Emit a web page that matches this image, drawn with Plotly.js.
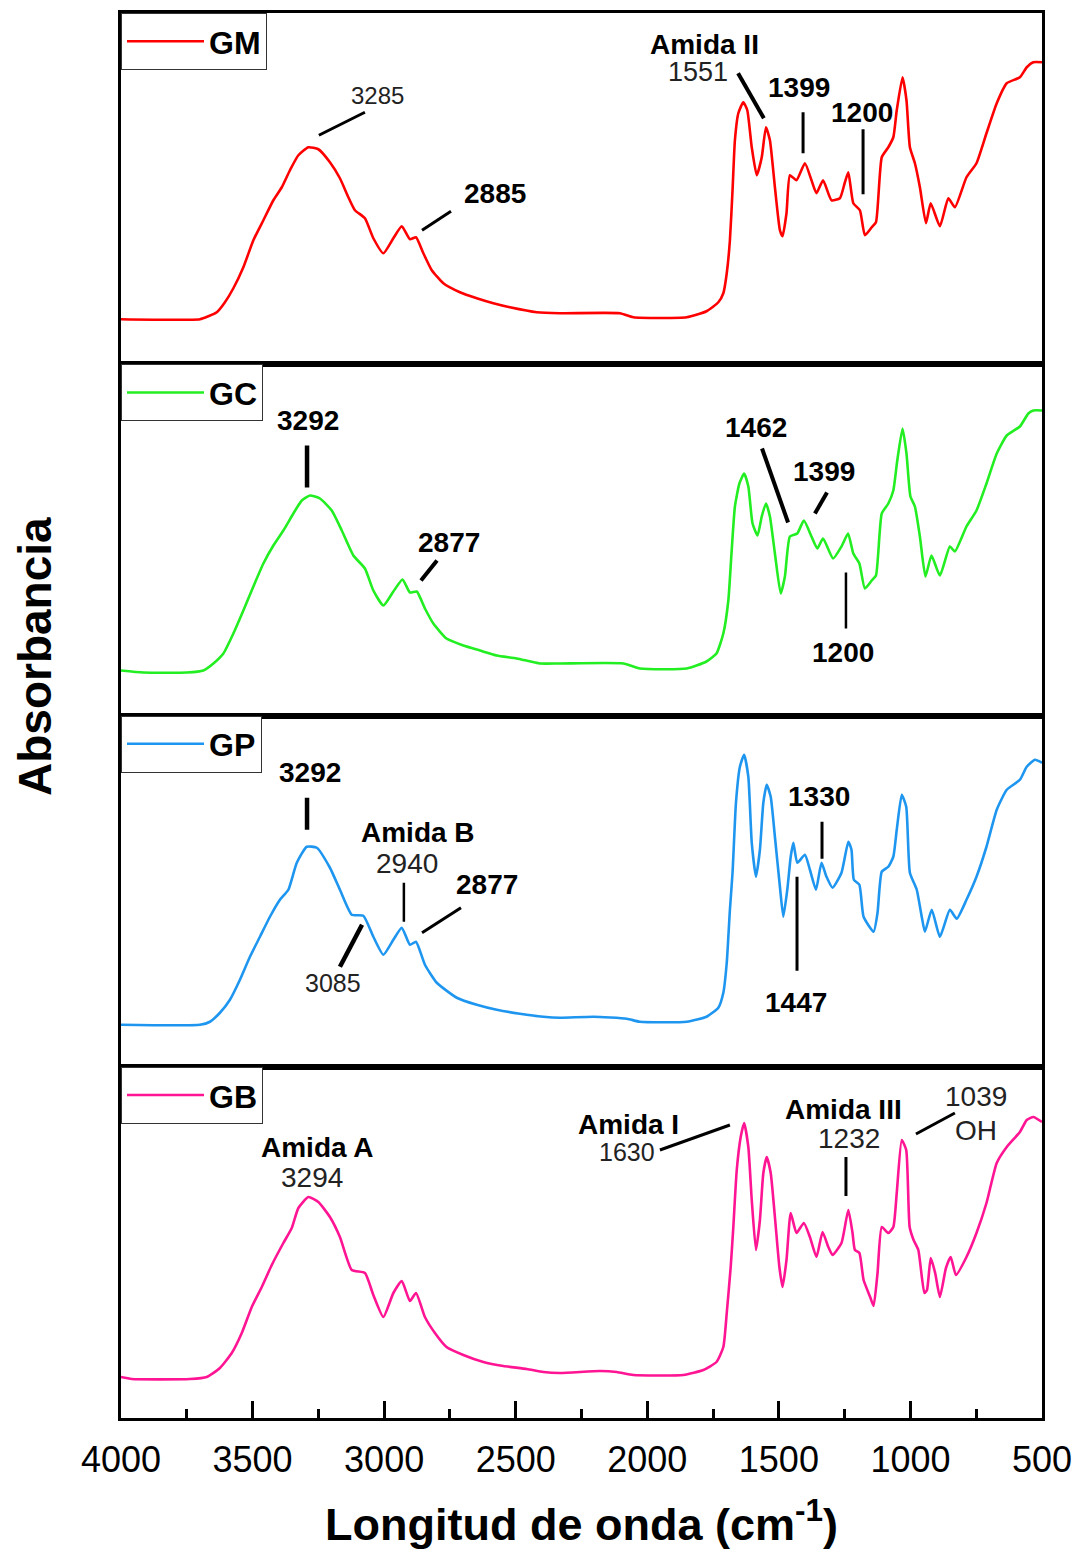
<!DOCTYPE html>
<html>
<head>
<meta charset="utf-8">
<script src="https://cdn.plot.ly/plotly-3.0.1.min.js"></script>
<style>
  html, body { margin: 0; padding: 0; background: #fff; }
  #chart { width: 1078px; height: 1559px; }
</style>
</head>
<body>
<div id="chart"></div>
<script>
// FTIR spectra of four gelatin samples: wavenumber (cm-1) and absorbance (arbitrary units)
const wnGM = [4000,3700,3668,3636,3605,3573,3535,3497,3459,3421,3389,3358,3326,3288,3250,3206,3168,3136,3111,3073,3041,3003,2965,2933,2902,2879,2851,2819,2775,2712,2648,2585,2522,2420,2332,2104,2053,1850,1775,1730,1711,1698,1686,1676,1667,1654,1635,1620,1603,1584,1565,1549,1534,1515,1496,1486,1471,1458,1433,1401,1376,1357,1332,1300,1268,1249,1236,1217,1192,1173,1147,1131,1109,1084,1065,1052,1030,1015,1002,983,964,941,923,888,856,831,787,749,711,672,634,584,558,533,500];
const absGM = [45,45,48,52,62,76,97,124,144,164,177,194,209,217,215,202,186,167,154,146,126,111,126,138,125,127,111,94,81,72,66,61,57,52,51,51,47,47,53,62,71,91,124,174,224,251,262,254,217,189,207,237,224,177,134,128,151,189,184,201,184,171,184,164,166,182,192,161,154,129,137,142,207,217,227,254,287,264,217,201,177,141,161,138,166,157,187,201,231,261,281,287,297,302,302];

const wnGC = [4000,3915,3750,3687,3649,3611,3573,3535,3497,3459,3421,3383,3345,3313,3282,3244,3199,3161,3117,3073,3041,3003,2965,2930,2902,2876,2845,2813,2763,2699,2636,2572,2496,2408,2332,2091,2028,1850,1775,1737,1711,1692,1680,1667,1650,1632,1616,1600,1581,1565,1549,1534,1515,1493,1477,1458,1430,1405,1376,1354,1332,1294,1262,1237,1217,1194,1173,1147,1131,1109,1084,1065,1050,1030,1015,1000,983,964,943,920,888,850,831,787,749,711,672,634,584,552,533,500];
const absGC = [45,43,43,45,52,62,82,105,129,152,170,185,202,215,220,217,205,185,160,147,125,110,124,136,123,124,107,92,77,70,65,60,57,52,52,52,47,47,54,62,82,115,162,209,232,242,229,192,180,199,212,199,162,122,139,179,182,195,179,167,177,157,169,182,162,152,127,135,140,202,212,225,255,287,262,219,209,179,139,160,140,169,164,189,205,232,262,280,289,302,305,305];

const wnGP = [4000,3700,3662,3624,3586,3548,3510,3472,3434,3396,3364,3332,3294,3256,3206,3168,3123,3079,3041,3003,2965,2933,2902,2879,2845,2800,2724,2648,2572,2484,2395,2332,2205,2078,2028,1850,1775,1730,1711,1698,1686,1676,1663,1648,1632,1616,1603,1587,1572,1559,1546,1531,1515,1496,1483,1468,1455,1445,1430,1401,1382,1359,1338,1319,1296,1262,1236,1224,1215,1194,1178,1140,1125,1109,1084,1065,1052,1033,1016,1002,976,957,945,919,888,850,824,787,749,711,672,634,584,558,527,500];
const absGP = [42,42,45,54,67,87,110,130,150,167,177,204,220,219,199,177,152,151,130,112,127,139,122,125,102,84,69,62,57,53,50,49,50,48,45,45,50,59,74,104,157,194,264,300,312,290,224,190,217,264,282,270,230,180,150,177,210,224,204,212,197,177,204,190,179,194,225,217,187,182,150,135,154,195,200,210,237,272,260,194,177,150,135,157,130,157,148,167,190,220,257,277,287,300,307,304];

const wnGB = [4000,3959,3738,3674,3624,3579,3541,3503,3465,3427,3383,3351,3326,3288,3250,3206,3168,3123,3073,3041,3003,2965,2933,2902,2879,2845,2807,2763,2699,2623,2547,2458,2395,2332,2180,2116,2053,1863,1787,1737,1711,1698,1683,1673,1660,1645,1632,1616,1603,1587,1572,1559,1546,1531,1515,1498,1486,1471,1455,1433,1405,1382,1357,1334,1312,1296,1262,1236,1220,1211,1194,1178,1153,1140,1125,1109,1084,1065,1052,1033,1016,1003,988,970,947,937,923,906,888,865,847,827,787,749,711,672,634,584,558,533,500];
const absGB = [41,39,39,41,50,65,85,111,131,153,175,190,210,221,216,201,181,148,145,123,101,125,137,117,125,101,85,71,63,56,52,49,46,45,47,46,43,43,48,56,71,105,151,191,248,281,295,271,218,168,198,245,261,245,201,151,131,158,205,185,195,181,161,186,171,163,175,208,185,168,165,138,121,112,145,191,185,191,225,278,268,191,178,168,125,128,160,145,121,150,161,143,161,185,215,255,271,286,298,301,296];

const sampleNames = ['GM', 'GC', 'GP', 'GB'];
const xTickValues = [4000, 3500, 3000, 2500, 2000, 1500, 1000, 500];
const xMinorTickValues = [3750, 3250, 2750, 2250, 1750, 1250, 750];

// ---- presentation ----
const FONT = '"Liberation Sans", Arial, Helvetica, sans-serif';
const lineColors = ['#ff0000', '#22ee22', '#1e96f0', '#ff1493'];
const seriesX = [wnGM, wnGC, wnGP, wnGB];
const seriesY = [absGM, absGC, absGP, absGB];
const PANEL_SPAN = 351.25;   // vertical extent of each stacked panel (a.u.)

// Peak labels: panel index (0 = top), text, position in data units, size, weight
const peakLabels = [
  {p: 0, t: '3285', x: 3027, y: 269, s: 24, b: false},
  {p: 0, t: '2885', x: 2579, y: 171, s: 28, b: true},
  {p: 0, t: 'Amida II', x: 1781, y: 320, s: 28, b: true},
  {p: 0, t: '1551', x: 1807, y: 292, s: 27, b: false},
  {p: 0, t: '1399', x: 1424, y: 277, s: 28, b: true},
  {p: 0, t: '1200', x: 1184, y: 252, s: 28, b: true},

  {p: 1, t: '3292', x: 3289, y: 295, s: 28, b: true},
  {p: 1, t: '2877', x: 2754, y: 173, s: 28, b: true},
  {p: 1, t: '1462', x: 1587, y: 288, s: 28, b: true},
  {p: 1, t: '1399', x: 1329, y: 244, s: 28, b: true},
  {p: 1, t: '1200', x: 1256, y: 63, s: 28, b: true},

  {p: 2, t: '3292', x: 3282, y: 294, s: 28, b: true},
  {p: 2, t: 'Amida B', x: 2871, y: 234, s: 28, b: true},
  {p: 2, t: '2940', x: 2913, y: 203, s: 28, b: false},
  {p: 2, t: '2877', x: 2609, y: 182, s: 28, b: true},
  {p: 2, t: '3085', x: 3194, y: 84, s: 25, b: false},
  {p: 2, t: '1330', x: 1348, y: 270, s: 28, b: true},
  {p: 2, t: '1447', x: 1435, y: 64, s: 28, b: true},

  {p: 3, t: 'Amida A', x: 3255, y: 271, s: 28, b: true},
  {p: 3, t: '3294', x: 3274, y: 241, s: 28, b: false},
  {p: 3, t: 'Amida I', x: 2073, y: 294, s: 28, b: true},
  {p: 3, t: '1630', x: 2077, y: 266, s: 25, b: false},
  {p: 3, t: 'Amida III', x: 1256, y: 309, s: 28, b: true},
  {p: 3, t: '1232', x: 1234, y: 280, s: 28, b: false},
  {p: 3, t: '1039', x: 751, y: 322, s: 28, b: false},
  {p: 3, t: 'OH', x: 751, y: 288, s: 28, b: false}
];

// Leader lines from the labels towards the bands
const leaders = [
  {p: 0, x0: 3248, y0: 229, x1: 3073, y1: 252, w: 3},
  {p: 0, x0: 2856, y0: 134, x1: 2746, y1: 153, w: 3},
  {p: 0, x0: 1655, y0: 291, x1: 1557, y1: 246, w: 4},
  {p: 0, x0: 1408, y0: 252, x1: 1408, y1: 211, w: 3},
  {p: 0, x0: 1180, y0: 235, x1: 1180, y1: 170, w: 3},

  {p: 1, x0: 3293, y0: 270, x1: 3293, y1: 228, w: 4.5},
  {p: 1, x0: 2860, y0: 135, x1: 2799, y1: 155, w: 4},
  {p: 1, x0: 1564, y0: 267, x1: 1465, y1: 193, w: 4},
  {p: 1, x0: 1363, y0: 202, x1: 1317, y1: 223, w: 4},
  {p: 1, x0: 1245, y0: 143, x1: 1245, y1: 87, w: 2.5},

  {p: 2, x0: 3293, y0: 269, x1: 3293, y1: 237, w: 4.5},
  {p: 2, x0: 2925, y0: 184, x1: 2925, y1: 145, w: 2.5},
  {p: 2, x0: 2856, y0: 134, x1: 2708, y1: 159, w: 3},
  {p: 2, x0: 3168, y0: 100, x1: 3084, y1: 142, w: 4.5},
  {p: 2, x0: 1336, y0: 245, x1: 1336, y1: 208, w: 3},
  {p: 2, x0: 1431, y0: 190, x1: 1431, y1: 96, w: 3},

  {p: 3, x0: 1952, y0: 268, x1: 1686, y1: 293, w: 3},
  {p: 3, x0: 1245, y0: 261, x1: 1245, y1: 222, w: 3},
  {p: 3, x0: 979, y0: 284, x1: 831, y1: 305, w: 3}
];

const axisId = i => (i === 0 ? '' : String(i + 1));

const traces = sampleNames.map((name, i) => ({
  type: 'scatter',
  mode: 'lines',
  name: name,
  x: seriesX[i],
  y: seriesY[i],
  xaxis: 'x' + axisId(i),
  yaxis: 'y' + axisId(i),
  legend: 'legend' + axisId(i),
  line: {color: lineColors[i], width: 2.6, shape: 'spline', smoothing: 0.5},
  hoverinfo: 'x+y+name'
}));

const layout = {
  width: 1078,
  height: 1559,
  margin: {l: 121, r: 36, t: 13, b: 141},
  paper_bgcolor: '#ffffff',
  plot_bgcolor: '#ffffff',
  font: {family: FONT, color: '#000'},
  showlegend: true,
  annotations: [],
  shapes: []
};

const n = sampleNames.length;
for (let i = 0; i < n; i++) {
  const id = axisId(i);
  const top = 1 - i / n;
  const bottom = 1 - (i + 1) / n;
  const isBottom = i === n - 1;

  layout['xaxis' + id] = {
    range: [4000, 500],
    autorange: false,
    anchor: 'y' + id,
    domain: [0, 1],
    showgrid: false,
    zeroline: false,
    showline: true,
    linewidth: 3,
    linecolor: '#000',
    mirror: true,
    ticks: isBottom ? 'inside' : '',
    ticklen: 17,
    tickwidth: 3,
    tickcolor: '#000',
    tickmode: 'array',
    tickvals: xTickValues,
    ticktext: xTickValues.map(String),
    showticklabels: isBottom,
    tickfont: {family: FONT, size: 36, color: '#000'},
    ticklabelstandoff: 8,
    minor: isBottom ? {ticks: 'inside', ticklen: 9, tickwidth: 3, tickcolor: '#000',
                       tickmode: 'array', tickvals: xMinorTickValues, showgrid: false} : undefined
  };
  if (i > 0) layout['xaxis' + id].matches = 'x';
  if (isBottom) {
    layout['xaxis' + id].title = {
      text: 'Longitud de onda (cm<sup>-1</sup>)',
      font: {family: FONT, size: 45, color: '#000', weight: 'bold'},
      standoff: 30
    };
  }

  layout['yaxis' + id] = {
    domain: [bottom, top],
    range: [0, PANEL_SPAN],
    autorange: false,
    anchor: 'x' + id,
    showgrid: false,
    zeroline: false,
    showline: true,
    linewidth: 3,
    linecolor: '#000',
    mirror: true,
    ticks: '',
    showticklabels: false
  };

  layout['legend' + id] = {
    x: 0, xanchor: 'left', xref: 'paper',
    y: top, yanchor: 'top', yref: 'paper',
    bgcolor: '#ffffff',
    bordercolor: '#333',
    borderwidth: 1,
    itemwidth: 77,
    font: {family: FONT, size: 32, color: '#000', weight: 'bold'}
  };
}

peakLabels.forEach(l => {
  const id = axisId(l.p);
  layout.annotations.push({
    xref: 'x' + id, yref: 'y' + id,
    x: l.x, y: l.y,
    text: l.b ? '<b>' + l.t + '</b>' : l.t,
    showarrow: false,
    xanchor: 'center', yanchor: 'middle',
    font: {family: FONT, size: l.s, color: l.b ? '#000' : '#222'}
  });
});

leaders.forEach(s => {
  const id = axisId(s.p);
  layout.shapes.push({
    type: 'line', xref: 'x' + id, yref: 'y' + id,
    x0: s.x0, y0: s.y0, x1: s.x1, y1: s.y1,
    line: {color: '#000', width: s.w}
  });
});

// vertical axis title shared by the four stacked panels
layout.annotations.push({
  xref: 'paper', yref: 'paper',
  x: (35 - 121) / 921, y: (1418 - 657) / 1405,
  text: '<b>Absorbancia</b>',
  textangle: -90,
  showarrow: false,
  xanchor: 'center', yanchor: 'middle',
  font: {family: FONT, size: 46, color: '#000'}
});

Plotly.newPlot('chart', traces, layout, {displayModeBar: false, responsive: false});
</script>
</body>
</html>
